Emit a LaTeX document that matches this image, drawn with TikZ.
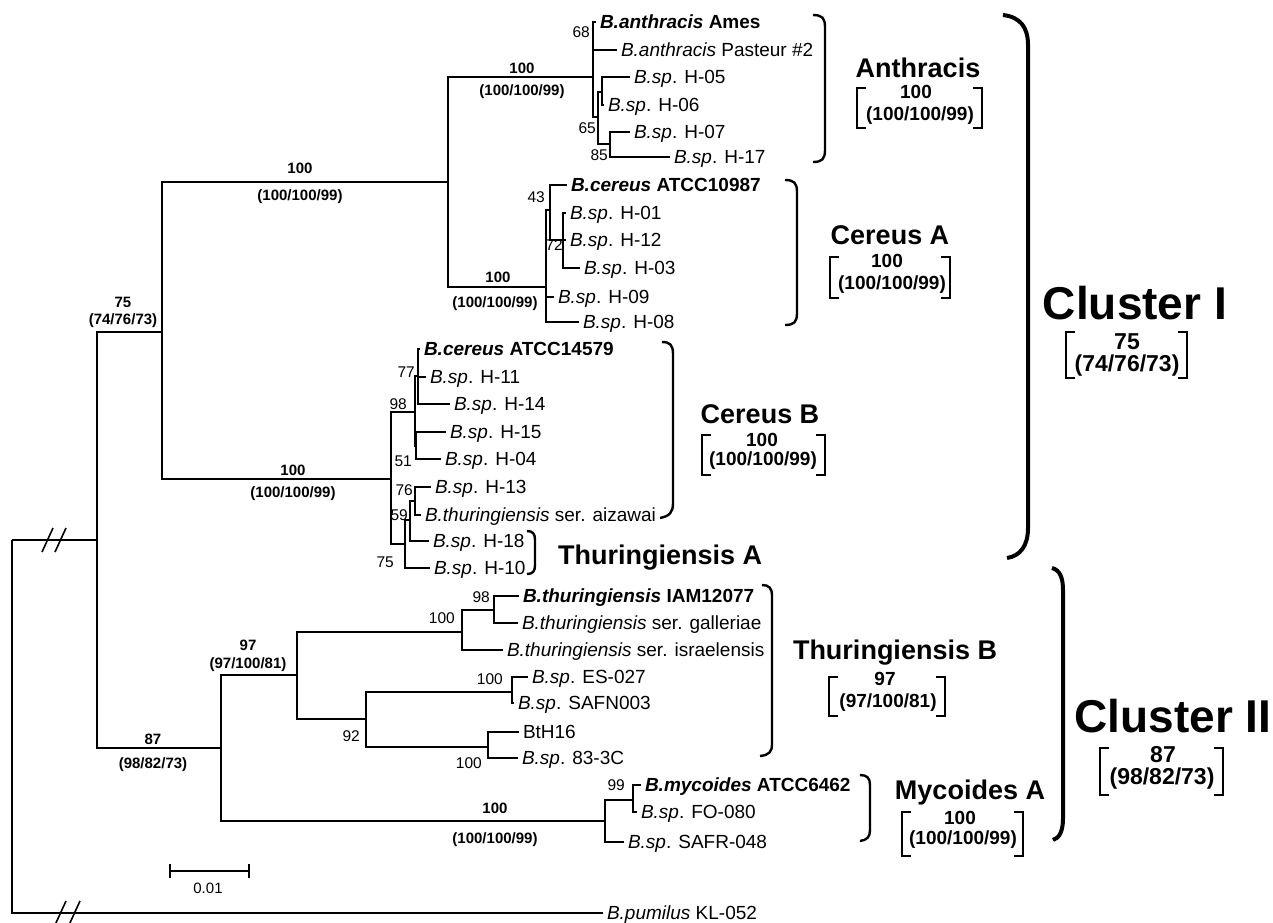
\documentclass[tikz,border=0pt]{standalone}
\usepackage{fontspec}
\setmainfont{Liberation Sans}
\begin{document}
\begin{tikzpicture}[x=1pt,y=-1pt,
  tree/.style={line width=1.8pt},
  pt/.style={inner sep=0pt,minimum size=0pt,outer sep=0pt},
  tip/.style={anchor=west,inner xsep=4pt,inner ysep=0pt,outer sep=0pt,font=\fontsize{19}{19}\selectfont,text height=13.6pt,text depth=0pt},
  bs/.style={anchor=east,inner sep=0pt,font=\fontsize{15.5}{15.5}\selectfont,text height=11pt,text depth=0pt},
  bl/.style={inner sep=0pt,font=\fontsize{15}{15}\selectfont\bfseries,text height=10.8pt,text depth=0pt},
  grp/.style={inner sep=0pt,font=\fontsize{27}{27}\selectfont\bfseries,text height=19.4pt,text depth=0pt},
  gnum/.style={inner sep=0pt,font=\fontsize{19}{19}\selectfont\bfseries,text height=13.6pt,text depth=0pt},
  clus/.style={inner sep=0pt,font=\fontsize{46}{46}\selectfont\bfseries,text height=33pt,text depth=0pt},
  cnum/.style={inner sep=0pt,font=\fontsize{23}{23}\selectfont\bfseries,text height=16.5pt,text depth=0pt},
  gbr/.style={line width=2.4pt},
  cbr/.style={line width=4pt},
  sqbr/.style={line width=2pt},
  sbar/.style={line width=1.5pt}]
\useasboundingbox (0,0) rectangle (1273,922);
% internal nodes
\foreach \n/\x/\y in {root/12/540,n97/97/540,n162/162/332,n448/448/182,an1/593/77,an65/598/117,anC/602/92,an85/610/144,
  ca0/546/287,ca43/550/210,ca72/563/240,n390/391/479,cb98/415/412,cb77/418/376,cb51/416/446,cb75/405/544,cb59/410/520,cb76/415/501,
  n221/221/748,n297/297/675,tb100/462/632,tb98/494/610,tb92/366/719,tbes/512/692,tbbt/488/747,my0/605/821,my99/633/800}
  \node[pt] (\n) at (\x,\y) {};
% tips
\node[tip] (ames) at (596,22) {\bfseries\itshape B.anthracis\upshape\ Ames};
\node[tip] (pas) at (617,50) {\itshape B.anthracis\upshape\ Pasteur \#2};
\node[tip] (h05) at (630,77) {\itshape B.sp\upshape. H-05};
\node[tip] (h06) at (604,105) {\itshape B.sp\upshape. H-06};
\node[tip] (h07) at (630,132) {\itshape B.sp\upshape. H-07};
\node[tip] (h17) at (670,157) {\itshape B.sp\upshape. H-17};
\node[tip] (c10987) at (567,185) {\bfseries\itshape B.cereus\upshape\ ATCC10987};
\node[tip] (h01) at (566,213) {\itshape B.sp\upshape. H-01};
\node[tip] (h12) at (566,240) {\itshape B.sp\upshape. H-12};
\node[tip] (h03) at (580,268) {\itshape B.sp\upshape. H-03};
\node[tip] (h09) at (554,297) {\itshape B.sp\upshape. H-09};
\node[tip] (h08) at (579,322) {\itshape B.sp\upshape. H-08};
\node[tip] (c14579) at (420,349) {\bfseries\itshape B.cereus\upshape\ ATCC14579};
\node[tip] (h11) at (426,377) {\itshape B.sp\upshape. H-11};
\node[tip] (h14) at (450,404) {\itshape B.sp\upshape. H-14};
\node[tip] (h15) at (446,432) {\itshape B.sp\upshape. H-15};
\node[tip] (h04) at (441,459) {\itshape B.sp\upshape. H-04};
\node[tip] (h13) at (431,487) {\itshape B.sp\upshape. H-13};
\node[tip] (aiz) at (421,515) {\itshape B.thuringiensis\upshape\ ser. aizawai};
\node[tip] (h18) at (429,541) {\itshape B.sp\upshape. H-18};
\node[tip] (h10) at (430,568) {\itshape B.sp\upshape. H-10};
\node[tip] (iam) at (519,596) {\bfseries\itshape B.thuringiensis\upshape\ IAM12077};
\node[tip] (gal) at (518,623) {\itshape B.thuringiensis\upshape\ ser. galleriae};
\node[tip] (isr) at (503,650) {\itshape B.thuringiensis\upshape\ ser. israelensis};
\node[tip] (es027) at (528,677) {\itshape B.sp\upshape. ES-027};
\node[tip] (safn) at (514,703) {\itshape B.sp\upshape. SAFN003};
\node[tip] (bth16) at (519,732) {BtH16};
\node[tip] (c833) at (518,758) {\itshape B.sp\upshape. 83-3C};
\node[tip] (myc) at (641,785) {\bfseries\itshape B.mycoides\upshape\ ATCC6462};
\node[tip] (fo080) at (637,812) {\itshape B.sp\upshape. FO-080};
\node[tip] (safr) at (624,842) {\itshape B.sp\upshape. SAFR-048};
\node[tip] (pum) at (603,913) {\itshape B.pumilus\upshape\ KL-052};
% edges
\foreach \p/\c in {root/n97,root/pum,n97/n162,n97/n221,n162/n448,n162/n390,n448/an1,n448/ca0,
  an1/ames,an1/pas,an1/an65,an65/anC,an65/an85,anC/h05,anC/h06,an85/h07,an85/h17,
  ca0/ca43,ca0/h09,ca0/h08,ca43/c10987,ca43/ca72,ca72/h01,ca72/h12,ca72/h03,
  n390/cb98,n390/cb75,cb98/cb77,cb98/cb51,cb77/c14579,cb77/h11,cb77/h14,cb51/h15,cb51/h04,
  cb75/cb59,cb75/h10,cb59/cb76,cb59/h18,cb76/h13,cb76/aiz,
  n221/n297,n221/my0,n297/tb100,n297/tb92,tb100/tb98,tb100/isr,tb98/iam,tb98/gal,
  tb92/tbes,tb92/tbbt,tbes/es027,tbes/safn,tbbt/bth16,tbbt/c833,my0/my99,my0/safr,my99/myc,my99/fo080}
  \draw[tree] (\p.center) |- (\c.west);
% break marks
\draw[line width=1.6pt] (42,552) -- (53,528) (55,552) -- (66,528);
\draw[line width=1.6pt] (55,925) -- (66,901) (69,925) -- (80,901);
% bootstrap values
\node[bs] (b68) at (590,32) {68};
\node[bs] (b65) at (596,128) {65};
\node[bs] (b85) at (608,155) {85};
\node[bs] (b43) at (545,197) {43};
\node[bs] (b72) at (563,245) {72};
\node[bs] (b77) at (415,372) {77};
\node[bs] (b98a) at (407,404) {98};
\node[bs] (b51) at (412,461) {51};
\node[bs] (b76) at (413,490) {76};
\node[bs] (b59) at (408,515) {59};
\node[bs] (b75) at (394,562) {75};
\node[bs] (b98b) at (490,597) {98};
\node[bs] (b100a) at (455,618) {100};
\node[bs] (b100b) at (503,679) {100};
\node[bs] (b92) at (360,736) {92};
\node[bs] (b100c) at (482,763) {100};
\node[bs] (b99) at (625,785) {99};
% branch labels
\node[bl] (l1a) at (522,68) {100};
\node[bl] (l1b) at (522,90) {(100/100/99)};
\node[bl] (l2a) at (300,168) {100};
\node[bl] (l2b) at (300,195) {(100/100/99)};
\node[bl] (l3a) at (498,277) {100};
\node[bl] (l3b) at (495,302) {(100/100/99)};
\node[bl] (l4a) at (293,470) {100};
\node[bl] (l4b) at (293,492) {(100/100/99)};
\node[bl] (l5a) at (123,302) {75};
\node[bl] (l5b) at (123,319) {(74/76/73)};
\node[bl] (l6a) at (153,739) {87};
\node[bl] (l6b) at (153,763) {(98/82/73)};
\node[bl] (l7a) at (248,645) {97};
\node[bl] (l7b) at (248,663) {(97/100/81)};
\node[bl] (l8a) at (495,808) {100};
\node[bl] (l8b) at (495,838) {(100/100/99)};
% scale bar
\node[pt] (sb1) at (170,871) {};
\node[pt] (sb2) at (249,871) {};
\draw[sbar] (sb1.center) -- (sb2.center);
\draw[sbar] ([yshift=-7pt]sb1.center) -- ([yshift=7pt]sb1.center);
\draw[sbar] ([yshift=-7pt]sb2.center) -- ([yshift=7pt]sb2.center);
\node[inner sep=0pt,font=\fontsize{15}{15}\selectfont,text height=10.8pt,text depth=0pt] (sbl) at (208,888) {0.01};
% group brackets
\draw[gbr] (813,15) .. controls (822,15) and (825,18) .. (825,27) -- (825,150) .. controls (825,159) and (822,162) .. (813,162);
\draw[gbr] (785,180) .. controls (794,180) and (797,183) .. (797,192) -- (797,313) .. controls (797,322) and (794,325) .. (785,325);
\draw[gbr] (662,342) .. controls (670,342) and (673,345) .. (673,354) -- (673,503) .. controls (673,512) and (670,516) .. (660,518);
\draw[gbr] (527,531) .. controls (533,531) and (535,534) .. (535,540) -- (535,565) .. controls (535,571) and (533,574) .. (527,574);
\draw[gbr] (762,585) .. controls (769,585) and (772,588) .. (772,596) -- (772,744) .. controls (772,752) and (769,755) .. (760,756);
\draw[gbr] (860,775) .. controls (867,775) and (870,778) .. (870,785) -- (870,830) .. controls (870,837) and (867,840) .. (860,841);
% cluster brackets
\draw[cbr] (1003,15) .. controls (1020,17) and (1028,27) .. (1028,45) -- (1028,528) .. controls (1028,546) and (1020,556) .. (1007,558);
\draw[cbr] (1052,568) .. controls (1060,570) and (1063,578) .. (1063,590) -- (1063,818) .. controls (1063,830) and (1060,838) .. (1053,840);
% group labels
\node[grp] (g-anth) at (918,68) {Anthracis};
\node[gnum] (g-anth-a) at (916,92) {100};
\node[gnum] (g-anth-b) at (920,114) {(100/100/99)};
\draw[sqbr] (866,88) -| (857,128) -- (866,128);
\draw[sqbr] (973,88) -| (982,128) -- (973,128);
\node[grp] (g-ceA) at (890,235) {Cereus A};
\node[gnum] (g-ceA-a) at (887,261) {100};
\node[gnum] (g-ceA-b) at (892,283) {(100/100/99)};
\draw[sqbr] (839,257) -| (830,298) -- (839,298);
\draw[sqbr] (941,257) -| (950,298) -- (941,298);
\node[grp] (g-ceB) at (760,414) {Cereus B};
\node[gnum] (g-ceB-a) at (762,440) {100};
\node[gnum] (g-ceB-b) at (763,459) {(100/100/99)};
\draw[sqbr] (711,435) -| (702,475) -- (711,475);
\draw[sqbr] (816,435) -| (825,475) -- (816,475);
\node[grp,anchor=west] (g-thA) at (558,555) {Thuringiensis A};
\node[grp] (g-thB) at (895,650) {Thuringiensis B};
\node[gnum] (g-thB-a) at (885,679) {97};
\node[gnum] (g-thB-b) at (888,701) {(97/100/81)};
\draw[sqbr] (838,677) -| (829,716) -- (838,716);
\draw[sqbr] (936,677) -| (945,716) -- (936,716);
\node[grp] (g-myA) at (970,790) {Mycoides A};
\node[gnum] (g-myA-a) at (960,818) {100};
\node[gnum] (g-myA-b) at (963,838) {(100/100/99)};
\draw[sqbr] (911,812) -| (902,856) -- (911,856);
\draw[sqbr] (1014,812) -| (1023,856) -- (1014,856);
% cluster labels
\node[clus] (c1) at (1135,303) {Cluster I};
\node[cnum] (c1a) at (1127,341) {75};
\node[cnum] (c1b) at (1127,363) {(74/76/73)};
\draw[sqbr] (1075,332) -| (1066,378) -- (1075,378);
\draw[sqbr] (1178,332) -| (1187,378) -- (1178,378);
\node[clus] (c2) at (1173,716) {Cluster II};
\node[cnum] (c2a) at (1163,754) {87};
\node[cnum] (c2b) at (1162,776) {(98/82/73)};
\draw[sqbr] (1109,748) -| (1100,795) -- (1109,795);
\draw[sqbr] (1214,748) -| (1223,795) -- (1214,795);
\end{tikzpicture}
\end{document}
